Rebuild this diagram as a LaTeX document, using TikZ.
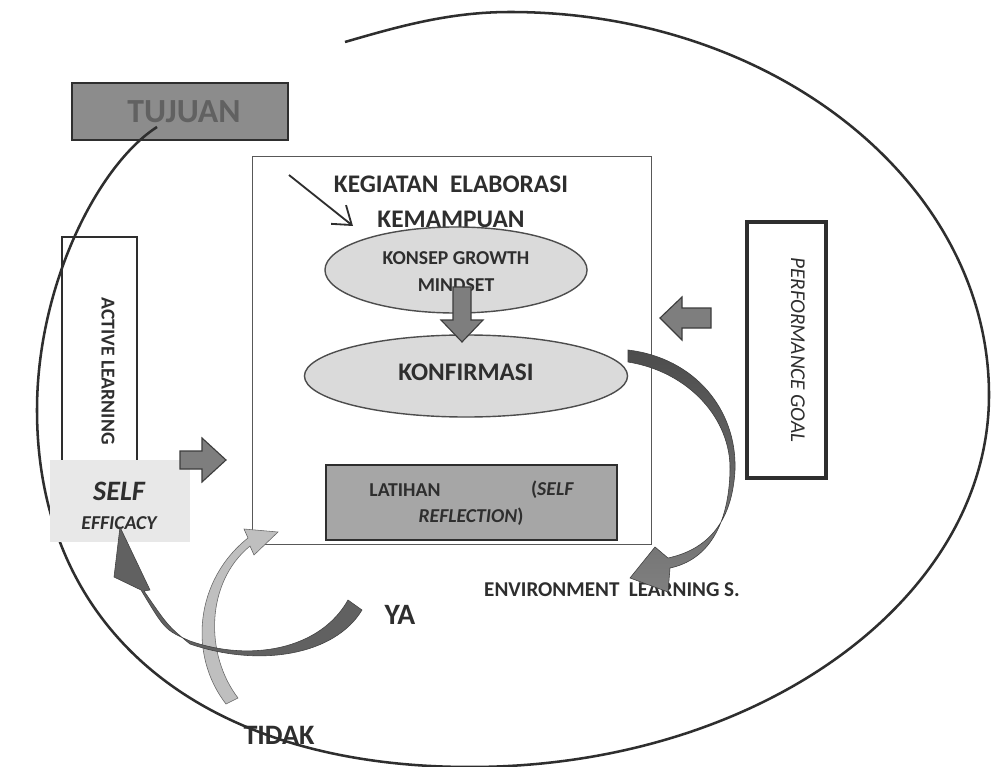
\documentclass[tikz,border=0pt]{standalone}
\usepackage{fontspec}
\setmainfont{Carlito}
\usetikzlibrary{shapes.geometric,arrows.meta}
\definecolor{ink}{HTML}{2E2E2E}
\definecolor{ovalgray}{HTML}{DADADA}
\definecolor{latgray}{HTML}{A6A6A6}
\definecolor{tujgray}{HTML}{8C8C8C}
\definecolor{effgray}{HTML}{E8E8E8}
\definecolor{arrgray}{HTML}{7E7E7E}
\definecolor{arrdark}{HTML}{3C3C3C}

\begin{document}
\begin{tikzpicture}[x=0.025cm, y=-0.025cm,
  box/.style={rectangle, draw=ink, line width=1pt, inner sep=0pt},
  oval/.style={ellipse, draw=ink!85, line width=1pt, fill=ovalgray, inner sep=0pt},
  lbl/.style={font=\bfseries, text=ink, inner sep=0pt},
  blockarr/.style={fill=arrgray, draw=arrdark, line width=0.8pt},
  ]
  \useasboundingbox (0,0) rectangle (991,767);
  \fill[white] (0,0) rectangle (991,767);

  % tujuan
  \node[box, fill=tujgray, line width=1.2pt, minimum width=5.4cm, minimum height=1.425cm] (tujuan) at (180,111.5) {};
  \node[lbl, text=black!62, font=\bfseries\fontsize{24}{28}\selectfont] (tujuanlbl) at (184,112) {TUJUAN};

  % big loop
  \draw[ink, line width=1.8pt] (345,42) .. controls (400,26) and (450,12) .. (510,12)
    .. controls (775,12) and (989,184) .. (989,395)
    .. controls (989,600) and (757,767) .. (470,767)
    .. controls (202,767) and (37,631) .. (37,410)
    .. controls (37,285) and (98,165) .. (157,127);

  % middle block
  \node[box, draw=ink!80, line width=0.7pt, minimum width=9.95cm, minimum height=9.675cm] (kegiatan) at (452,350.5) {};
  \node[lbl, font=\bfseries\fontsize{18}{21}\selectfont] (keg) at (451,184) {KEGIATAN\ \ ELABORASI};
  \node[lbl, font=\bfseries\fontsize{18}{21}\selectfont] (kem) at (451,219) {KEMAMPUAN};
  \coordinate (ptail) at (289,175);
  \coordinate (phead) at (353,226);
  \draw[ink, line width=1.3pt, -{Straight Barb[length=12pt, width=17pt]}] (ptail) -- (phead);

  \node[oval, minimum width=6.55cm, minimum height=2.15cm] (konsep) at (456,270) {};
  \node[lbl, align=center, font=\bfseries\fontsize{14}{19}\selectfont] (konseplbl) at (456,271.5) {KONSEP GROWTH\\MINDSET};
  \node[oval, minimum width=8.075cm, minimum height=2.05cm] (konfirmasi) at (466,376) {};
  \node[lbl, font=\bfseries\fontsize{18}{21}\selectfont] (konflbl) at (466,372) {KONFIRMASI};
  \filldraw[blockarr] (453,287) -- (471,287) -- (471,320) -- (483,320) -- (462,342) -- (441,320) -- (453,320) -- cycle;

  \node[box, fill=latgray, line width=1.5pt, minimum width=7.275cm, minimum height=1.875cm] (latihan) at (471.5,502.5) {};
  \node[lbl, font=\bfseries\fontsize{14}{17}\selectfont] (lat1) at (405,490) {LATIHAN};
  \node[lbl, font=\bfseries\fontsize{14}{17}\selectfont] (lat2) at (552.5,490) {(\textit{SELF}};
  \node[lbl, font=\bfseries\fontsize{14}{17}\selectfont] (lat3) at (471,517) {\textit{REFLECTION})};

  % left side
  \node[box, line width=1.1pt, minimum width=1.875cm, minimum height=7.575cm] (active) at (99.5,388.5) {};
  \node[lbl, rotate=-90, font=\bfseries\fontsize{14}{17}\selectfont] (activelbl) at (108,371) {ACTIVE LEARNING};
  \node[rectangle, fill=effgray, minimum width=3.5cm, minimum height=2.05cm] (selfeff) at (120,501) {};
  \node[lbl, font=\bfseries\itshape\fontsize{20}{24}\selectfont] (self) at (119,491) {SELF};
  \node[lbl, font=\bfseries\itshape\fontsize{14}{17}\selectfont] (efficacy) at (119,523) {EFFICACY};
  \filldraw[blockarr] (180,451) -- (202,451) -- (202,438) -- (226,460) -- (202,482) -- (202,469) -- (180,469) -- cycle;

  % right side
  \node[box, line width=2.2pt, minimum width=1.975cm, minimum height=6.4cm] (perform) at (786.5,350) {};
  \node[lbl, rotate=-90, font=\itshape\fontsize{15}{18}\selectfont] (performlbl) at (798,350) {PERFORMANCE GOAL};
  \filldraw[blockarr] (711,308) -- (682,308) -- (682,297) -- (660,318) -- (682,340) -- (682,328) -- (711,328) -- cycle;

  % labels below
  \node[lbl, font=\bfseries\fontsize{15}{18}\selectfont] (env) at (612,590) {ENVIRONMENT\ \ LEARNING S.};
  \node[lbl, font=\bfseries\fontsize{21}{25}\selectfont] (ya) at (400,615) {YA};
  \node[lbl, font=\bfseries\fontsize{20}{24}\selectfont] (tidak) at (279,735) {TIDAK};

  % curved arrows
  \shade[top color=black!70, middle color=black!20, bottom color=black!50, draw=arrdark, line width=0.4pt]
    (628,350) .. controls (695,358) and (737,410) .. (735,470)
    .. controls (732,525) and (705,550) .. (668,558) -- (655,547) -- (630,578) -- (668,592) -- (670,568)
    .. controls (708,560) and (729,525) .. (730,470)
    .. controls (731,420) and (690,372) .. (628,362) -- cycle;
  \filldraw[fill=black!25, draw=black!60, line width=0.4pt]
    (226,704) .. controls (188,655) and (195,580) .. (248,538) -- (244,529) -- (278,532) -- (254,555) -- (250,546)
    .. controls (205,583) and (205,655) .. (238,698) -- cycle;
  \filldraw[fill=black!62, draw=black!75, line width=0.4pt]
    (348,600) .. controls (320,650) and (250,662) .. (190,641)
    .. controls (165,630) .. (141,590) -- (114,577) -- (120,527) -- (150,590) -- (144,591)
    .. controls (168,626) .. (190,644)
    .. controls (260,668) and (335,655) .. (362,610) -- cycle;
\end{tikzpicture}
\end{document}
